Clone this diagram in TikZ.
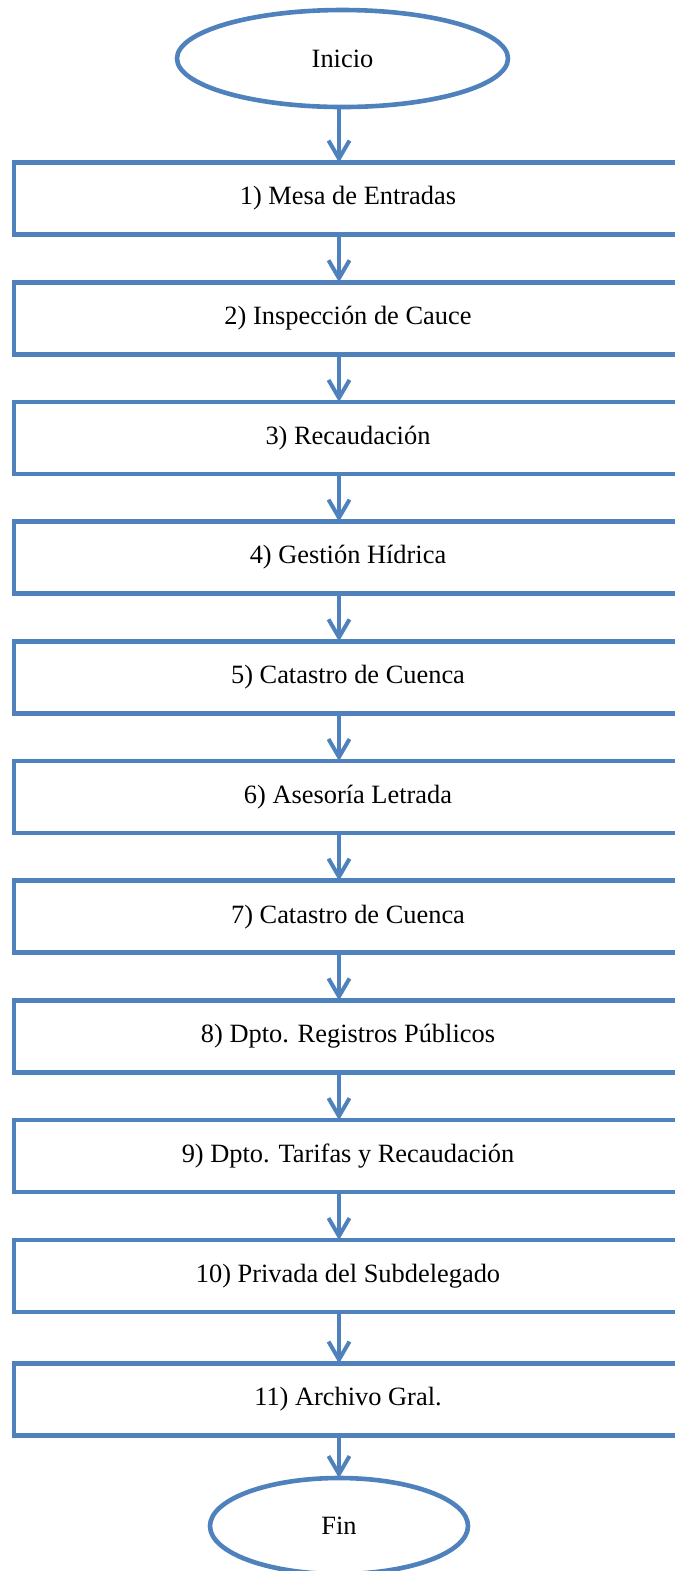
\documentclass[tikz,border=0pt]{standalone}
\usepackage{fontspec}
\setmainfont{Liberation Serif}
\usepackage{xcolor}
\usetikzlibrary{shapes.geometric,arrows.meta}

\definecolor{flowblue}{HTML}{4F81BD}
\tikzset{
  stepbox/.style={draw=flowblue, line width=2.3pt, rectangle, minimum width=334pt, minimum height=36pt, inner sep=0pt, outer sep=0pt},
  terminal/.style={draw=flowblue, line width=2.3pt, ellipse, inner sep=0pt, outer sep=0pt},
  flow/.style={draw=flowblue, line width=2pt, -{Straight Barb[length=9pt,width=10.5pt]}}
}

\begin{document}
\begin{tikzpicture}[x=0.5pt,y=-0.5pt,font=\fontsize{13.2}{16}\selectfont]
        \useasboundingbox (0,0) rectangle (675,1571);
        \coordinate (axis) at (339,0);

        \node[terminal, minimum width=165.5pt, minimum height=48.5pt] (inicio) at (342.5,58.5) {Inicio};
        \node[stepbox] (paso1) at (348,198.5) {1) Mesa de Entradas};
        \node[stepbox] (paso2) at (348,318.2) {2) Inspección de Cauce};
        \node[stepbox] (paso3) at (348,437.9) {3) Recaudación};
        \node[stepbox] (paso4) at (348,557.6) {4) Gestión Hídrica};
        \node[stepbox] (paso5) at (348,677.3) {5) Catastro de Cuenca};
        \node[stepbox] (paso6) at (348,797.0) {6) Asesoría Letrada};
        \node[stepbox] (paso7) at (348,916.7) {7) Catastro de Cuenca};
        \node[stepbox] (paso8) at (348,1036.4) {8) Dpto. Registros Públicos};
        \node[stepbox] (paso9) at (348,1156.1) {9) Dpto. Tarifas y Recaudación};
        \node[stepbox] (paso10) at (348,1276) {10) Privada del Subdelegado};
        \node[stepbox] (paso11) at (348,1399.5) {11) Archivo Gral.};
        \node[terminal, minimum width=129pt, minimum height=48pt] (fin) at (339,1526) {Fin};

        \draw[flow] (inicio.south -| axis) -- (paso1.north -| axis);
        \draw[flow] (paso1.south -| axis) -- (paso2.north -| axis);
        \draw[flow] (paso2.south -| axis) -- (paso3.north -| axis);
        \draw[flow] (paso3.south -| axis) -- (paso4.north -| axis);
        \draw[flow] (paso4.south -| axis) -- (paso5.north -| axis);
        \draw[flow] (paso5.south -| axis) -- (paso6.north -| axis);
        \draw[flow] (paso6.south -| axis) -- (paso7.north -| axis);
        \draw[flow] (paso7.south -| axis) -- (paso8.north -| axis);
        \draw[flow] (paso8.south -| axis) -- (paso9.north -| axis);
        \draw[flow] (paso9.south -| axis) -- (paso10.north -| axis);
        \draw[flow] (paso10.south -| axis) -- (paso11.north -| axis);
        \draw[flow] (paso11.south -| axis) -- (fin.north -| axis);
\end{tikzpicture}
\end{document}
